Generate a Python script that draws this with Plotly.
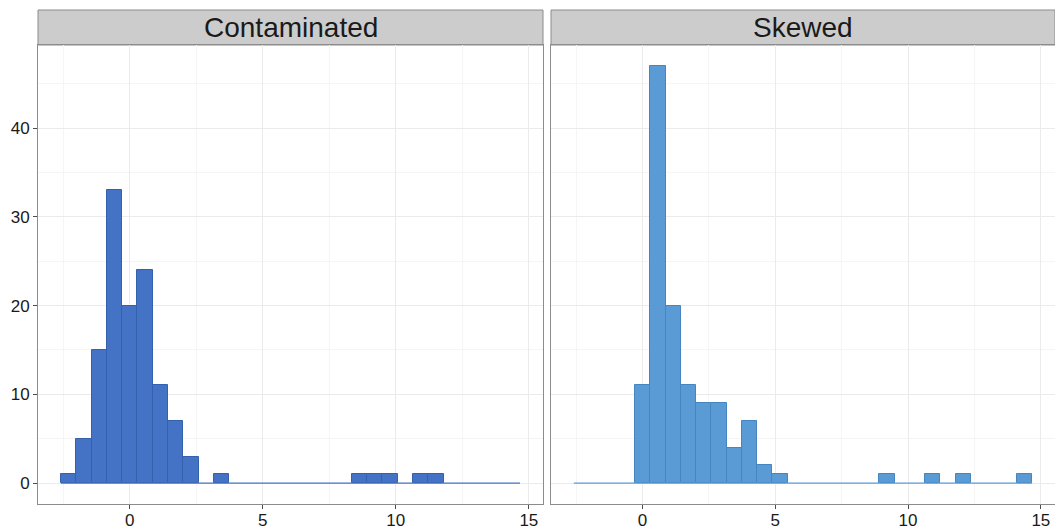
import plotly.graph_objects as go
from plotly.subplots import make_subplots

# histogram bins (shared by both facets)
bin_start = -2.58
bin_width = 0.575
n_bins = 30

panels = ["Contaminated", "Skewed"]
counts_contaminated = [1, 5, 15, 33, 20, 24, 11, 7, 3, 0, 1, 0, 0, 0, 0,
                       0, 0, 0, 0, 1, 1, 1, 0, 1, 1, 0, 0, 0, 0, 0]
counts_skewed = [0, 0, 0, 0, 11, 47, 20, 11, 9, 9, 4, 7, 2, 1, 0,
                 0, 0, 0, 0, 0, 1, 0, 0, 1, 0, 1, 0, 0, 0, 1]

x_ticks = [0, 5, 10, 15]
y_ticks = [0, 10, 20, 30, 40]

fills = ["#4472C4", "#5B9BD5"]
outlines = ["#3560AE", "#4585C2"]

centers = [bin_start + bin_width * (i + 0.5) for i in range(n_bins)]
bin_end = bin_start + bin_width * n_bins

fig = make_subplots(rows=1, cols=2, shared_yaxes=False, horizontal_spacing=0.0)

W, H = 1055, 529
ml, mr, mt, mb = 38, 0, 10, 25
pw = W - ml - mr
ph = H - mt - mb
left_dom = [0, (543 - ml) / pw]
right_dom = [(551 - ml) / pw, 1.0]
ytop = (H - mb - 45) / ph

for k, counts in enumerate([counts_contaminated, counts_skewed]):
    col = k + 1
    fig.add_trace(go.Scatter(x=[bin_start, bin_end], y=[0, 0], mode="lines",
                             line=dict(color=fills[k], width=1.3),
                             hoverinfo="skip", showlegend=False), row=1, col=col)
    ys = [c if c > 0 else None for c in counts]
    fig.add_trace(go.Bar(x=centers, y=ys, width=bin_width,
                         marker=dict(color=fills[k], line=dict(color=outlines[k], width=1)),
                         showlegend=False), row=1, col=col)

span = bin_end - bin_start
xr = [bin_start - 0.05 * span, bin_end + 0.05 * span]
ymax = max(max(counts_contaminated), max(counts_skewed))
yr = [-0.05 * ymax, ymax * 1.05]

axis_common = dict(showline=True, linecolor="#8C8C8C", linewidth=1, mirror=True,
                   showgrid=True, gridcolor="#EBEBEB", gridwidth=1, zeroline=False,
                   ticks="outside", ticklen=4, tickcolor="#4D4D4D", automargin=False,
                   tickfont=dict(family="Liberation Sans, Arial", size=17, color="#1A1A1A"))

for k, dom in enumerate([left_dom, right_dom]):
    sfx = "" if k == 0 else str(k + 1)
    fig.layout["xaxis" + sfx].update(range=xr, domain=dom, tickvals=x_ticks,
                                     ticklabelstandoff=-3,
                                     minor=dict(showgrid=True, gridcolor="#F5F5F5", dtick=2.5, tick0=0),
                                     **axis_common)
    fig.layout["yaxis" + sfx].update(range=yr, domain=[0, ytop], tickvals=y_ticks,
                                     showticklabels=(k == 0),
                                     minor=dict(showgrid=True, gridcolor="#F5F5F5", dtick=5, tick0=0),
                                     **axis_common)
    if k == 1:
        fig.layout["yaxis" + sfx].update(ticks="")
    fig.add_shape(type="rect", xref="paper", yref="paper", x0=dom[0], x1=dom[1],
                  y0=ytop, y1=1.0, fillcolor="#CCCCCC", line=dict(color="#8C8C8C", width=1),
                  layer="below")
    fig.add_annotation(text=panels[k], xref="paper", yref="paper",
                       x=(dom[0] + dom[1]) / 2, y=(ytop + 1) / 2, showarrow=False,
                       xanchor="center", yanchor="middle",
                       font=dict(family="Liberation Sans, Arial", size=28, color="#1A1A1A"))

fig.update_layout(width=W, height=H, margin=dict(l=ml, r=mr, t=mt, b=mb),
                  paper_bgcolor="white", plot_bgcolor="white", bargap=0,
                  barmode="overlay")

fig.write_html("out.html")
